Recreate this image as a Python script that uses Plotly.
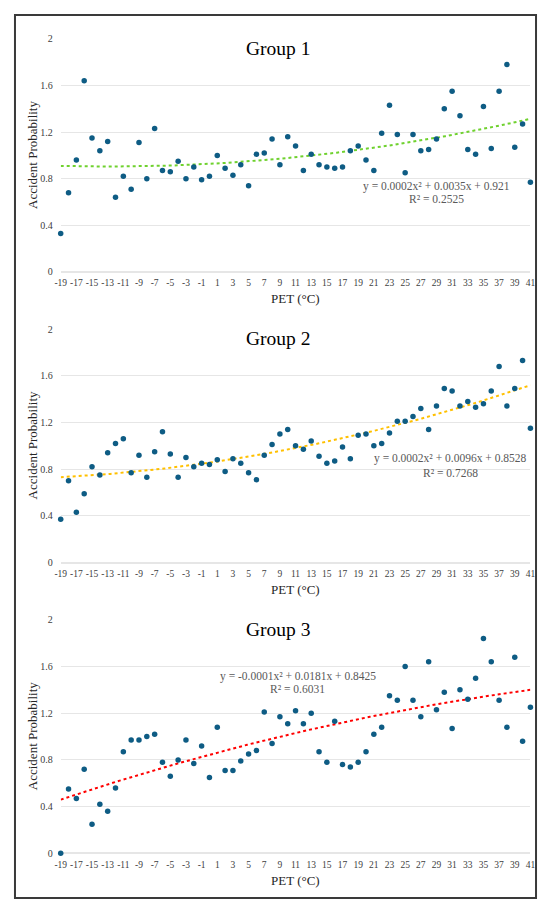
import numpy as np
import plotly.graph_objects as go

# PET values (°C) and accident probability per group
pet = list(range(-19, 42))
pet_ticks = list(range(-19, 42, 2))
prob_ticks = [0, 0.4, 0.8, 1.2, 1.6, 2]

group1 = [0.33, 0.68, 0.96, 1.64, 1.15, 1.04, 1.12, 0.64, 0.82, 0.71,
          1.11, 0.80, 1.23, 0.87, 0.86, 0.95, 0.80, 0.90, 0.79, 0.82,
          1.00, 0.89, 0.83, 0.92, 0.74, 1.01, 1.02, 1.14, 0.92, 1.16,
          1.08, 0.87, 1.01, 0.92, 0.90, 0.89, 0.90, 1.04, 1.08, 0.96,
          0.87, 1.19, 1.43, 1.18, 0.85, 1.18, 1.04, 1.05, 1.14, 1.40,
          1.55, 1.34, 1.05, 1.01, 1.42, 1.06, 1.55, 1.78, 1.07, 1.27,
          0.77]

group2 = [0.37, 0.70, 0.43, 0.59, 0.82, 0.75, 0.94, 1.02, 1.06, 0.77,
          0.92, 0.73, 0.95, 1.12, 0.93, 0.73, 0.90, 0.82, 0.85, 0.84,
          0.88, 0.78, 0.89, 0.85, 0.77, 0.71, 0.92, 1.01, 1.10, 1.14,
          1.00, 0.97, 1.04, 0.91, 0.85, 0.87, 0.99, 0.89, 1.09, 1.10,
          1.00, 1.02, 1.11, 1.21, 1.21, 1.25, 1.32, 1.14, 1.34, 1.49,
          1.47, 1.34, 1.38, 1.33, 1.36, 1.47, 1.68, 1.34, 1.49, 1.73,
          1.15]

group3 = [0.00, 0.55, 0.47, 0.72, 0.25, 0.42, 0.36, 0.56, 0.87, 0.97,
          0.97, 1.00, 1.02, 0.78, 0.66, 0.80, 0.97, 0.77, 0.92, 0.65,
          1.08, 0.71, 0.71, 0.79, 0.85, 0.88, 1.21, 0.94, 1.17, 1.11,
          1.22, 1.11, 1.20, 0.87, 0.78, 1.13, 0.76, 0.74, 0.78, 0.87,
          1.02, 1.08, 1.35, 1.31, 1.60, 1.31, 1.17, 1.64, 1.23, 1.38,
          1.07, 1.40, 1.32, 1.50, 1.84, 1.64, 1.31, 1.08, 1.68, 0.96,
          1.25]

titles = ["Group 1", "Group 2", "Group 3"]
equations = ["y = 0.0002x² + 0.0035x + 0.921",
             "y = 0.0002x² + 0.0096x + 0.8528",
             "y = -0.0001x² + 0.0181x + 0.8425"]
r2_labels = ["R² = 0.2525", "R² = 0.7268", "R² = 0.6031"]
trend_colors = ["#6FD12E", "#FFC000", "#FF0000"]

serif = "Liberation Serif, Times New Roman, serif"
dot_color = "#0E5C84"

# figure is 534x897 so that with the page's 8px body margin it fills 550x913
W, H = 534, 897
y_domains = [[0.7087, 0.9718], [0.3802, 0.6440], [0.0516, 0.3155]]
x_domain = [0.0893, 0.9874]
eq_pos = [(0.801, 0.735, 0.622), (0.830, 0.890, 0.770), (0.505, 1.518, 1.405)]

fig = go.Figure()
layout = dict(width=W, height=H, margin=dict(l=0, r=0, t=0, b=0),
              paper_bgcolor="white", plot_bgcolor="white",
              showlegend=False, annotations=[], shapes=[])


def note(text, xref, yref, x, y, size, color, **kw):
    # centred text; plotly's "auto" anchors would shift paper/domain notes
    return dict(text=text, xref=xref, yref=yref, x=x, y=y, showarrow=False,
                xanchor="center", yanchor="middle",
                font=dict(family=serif, size=size, color=color), **kw)


for i, ys in enumerate([group1, group2, group3]):
    n = i + 1
    xa = "x" if n == 1 else f"x{n}"
    ya = "y" if n == 1 else f"y{n}"

    # second-order polynomial trendline fitted to the points
    coef = np.polyfit(pet, ys, 2)
    xs = np.linspace(pet[0], pet[-1], 200)
    fig.add_trace(go.Scatter(x=xs, y=np.polyval(coef, xs), mode="lines",
                             line=dict(color=trend_colors[i], width=2, dash="dot"),
                             xaxis=xa, yaxis=ya, hoverinfo="skip"))
    fig.add_trace(go.Scatter(x=pet, y=ys, mode="markers",
                             marker=dict(color=dot_color, size=5.5),
                             xaxis=xa, yaxis=ya, cliponaxis=False))

    layout[f"xaxis{'' if n == 1 else n}"] = dict(
        domain=x_domain, range=[-19, 41], anchor=ya,
        tickvals=pet_ticks, ticktext=[str(v) for v in pet_ticks], tickangle=0,
        showgrid=False, zeroline=False, showline=False, ticks="",
        ticklabelstandoff=4,
        tickfont=dict(family=serif, size=9.5, color="#404040"))
    layout[f"yaxis{'' if n == 1 else n}"] = dict(
        domain=y_domains[i], range=[0, 2], anchor=xa,
        tickvals=prob_ticks, showgrid=True,
        gridcolor="#E6E6E6", gridwidth=1, zeroline=True, zerolinecolor="#E6E6E6",
        showline=False, ticks="", ticklabelstandoff=7,
        tickfont=dict(family=serif, size=10, color="#404040"))

    mid = (y_domains[i][0] + y_domains[i][1]) / 2
    layout["annotations"] += [
        note(titles[i], f"{xa} domain", ya, 0.463, 1.92, 19.5, "black"),
        note(equations[i], f"{xa} domain", ya, eq_pos[i][0], eq_pos[i][1],
             11.5, "#595959"),
        note(r2_labels[i], f"{xa} domain", ya, eq_pos[i][0], eq_pos[i][2],
             11.5, "#595959"),
        note("Accident Probability", "paper", "paper", 19 / W, mid, 13,
             "#262626", textangle=-90),
        note("PET (°C)", "paper", "paper", 287.5 / W,
             y_domains[i][0] - 27.5 / H, 13, "#262626"),
    ]

# frame around the whole figure
layout["shapes"].append(dict(type="rect", xref="paper", yref="paper",
                             x0=1 / W, x1=(W - 1) / W, y0=1 / H, y1=(H - 1) / H,
                             line=dict(color="#3A3A3A", width=2)))

fig.update_layout(**layout)
fig.write_html("out.html", config={"displayModeBar": False})
